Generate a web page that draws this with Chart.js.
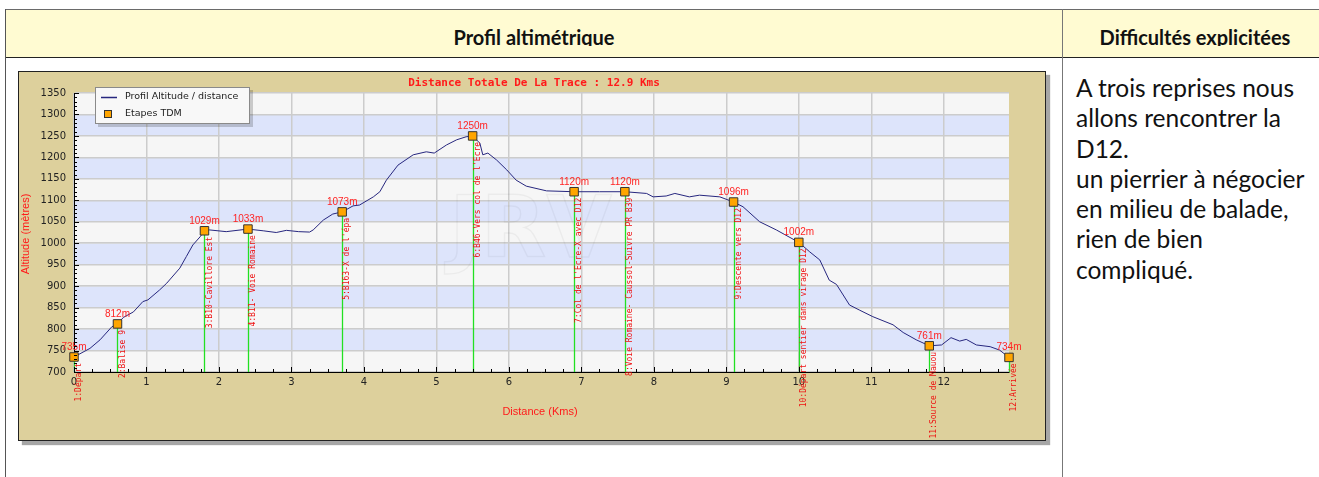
<!DOCTYPE html>
<html><head><meta charset="utf-8">
<script src="https://cdn.jsdelivr.net/npm/chart.js@4.4.0/dist/chart.umd.min.js"></script>
<style>
html,body{margin:0;padding:0;background:#fff;width:1319px;height:477px;overflow:hidden;font-family:Lato,"Noto Sans",sans-serif;}
.abs{position:absolute;}
#hdr{left:5px;top:9px;width:1320px;height:47px;background:#fffbd2;border-top:1px solid #6a6a6a;border-bottom:1px solid #222;}
#vl1{left:5px;top:9px;width:1px;height:470px;background:#555;}
#vl2{left:1062px;top:9px;width:1px;height:470px;background:#777;}
.ht{top:25px;height:21px;overflow:hidden;line-height:24px;font-size:20px;font-weight:bold;color:#111;text-align:center;white-space:nowrap;}
#h1{left:6px;width:1056px;}
#h2{left:1063px;width:264px;}
#frame{left:18px;top:71px;width:1026px;height:368px;border:1px solid #222;background:#ddd09c;box-shadow:4px 4px 1px rgba(0,0,0,0.35);}
#c{display:block;}
#txt{left:1076px;top:73px;font-size:24.5px;line-height:30.3px;color:#111;white-space:nowrap;}
</style></head>
<body>
<div id="hdr" class="abs"></div>
<div id="vl1" class="abs"></div>
<div id="vl2" class="abs"></div>
<div id="h1" class="abs ht">Profil altimétrique</div>
<div id="h2" class="abs ht">Difficultés explicitées</div>
<div id="frame" class="abs"><canvas id="c" width="1026" height="368"></canvas></div>
<div id="txt" class="abs">A trois reprises nous<br>allons rencontrer la<br>D12.<br>un pierrier à négocier<br>en milieu de balade,<br>rien de bien<br>compliqué.</div>
<script>
// ---- data ----
const distances = [0,0.22,0.36,0.52,0.60,0.68,0.82,0.95,1.02,1.18,1.28,1.46,1.55,1.64,1.74,1.80,1.87,2.10,2.40,2.61,2.79,2.93,3.10,3.25,3.30,3.44,3.57,3.70,3.85,3.94,4.13,4.22,4.31,4.47,4.68,4.86,4.97,5.14,5.28,5.41,5.50,5.60,5.64,5.71,5.83,5.97,6.10,6.24,6.52,6.90,7.25,7.60,7.90,7.99,8.17,8.29,8.49,8.63,8.91,9.10,9.23,9.46,9.69,10.00,10.15,10.29,10.42,10.52,10.70,10.84,11.02,11.30,11.44,11.62,11.80,11.97,12.10,12.22,12.31,12.45,12.64,12.77,12.90];
const altitudes = [735,755,775,805,812,827,840,864,868,891,907,942,969,996,1015,1029,1031,1027,1033,1029,1025,1030,1027,1026,1031,1054,1068,1073,1087,1089,1108,1120,1147,1182,1206,1213,1210,1229,1241,1248,1250,1233,1206,1210,1194,1171,1147,1133,1122,1120,1120,1120,1116,1108,1110,1116,1108,1112,1108,1096,1085,1050,1031,1002,980,961,914,904,856,844,829,810,792,775,761,763,780,772,776,763,759,751,734];
const stageKm = [0,0.6,1.8,2.4,3.7,5.5,6.9,7.6,9.1,10.0,11.8,12.9];
const stageAlt = [735,812,1029,1033,1073,1250,1120,1120,1096,1002,761,734];
const stageNames = ["1:Départ","2:Balise 9","3:B10-Cavillore Est","4:B11- Voie Romaine","5:B163-X de l'épa","6:B46-Vers col de l'Ecre","7:Col de l'Ecre-X avec D12","8:Voie Romaine- Caussol-Suivre PR B39","9:Descente vers D12","10:Départ sentier dans virage D12","11:Source de Mauou","12:Arrivée"];
const xTickValues = [0,1,2,3,4,5,6,7,8,9,10,11,12];
const yTickValues = [700,750,800,850,900,950,1000,1050,1100,1150,1200,1250,1300,1350];
const xMax = 12.9;
const chartTitle = "Distance Totale De La Trace : 12.9 Kms";
const xTitle = "Distance (Kms)";
const yTitle = "Altitude (mètres)";
const seriesLabels = ["Profil Altitude / distance","Etapes TDM"];

const bands = {id:'bands', beforeDraw(chart){
  const {ctx, chartArea:a, scales:{y}} = chart;
  ctx.save();
  for (let i=0;i<yTickValues.length-1;i++){
    const top=y.getPixelForValue(yTickValues[i+1]), bot=y.getPixelForValue(yTickValues[i]);
    ctx.fillStyle = (i%2===1)?'#dde4fb':'#f6f6f6';
    ctx.fillRect(a.left, top, a.right-a.left, bot-top);
  }
  ctx.restore();
}};

const stations = {id:'stations',
  beforeDatasetsDraw(chart){
    const {ctx, chartArea:a, scales:{x,y}} = chart;
    ctx.save();
    // watermark
    ctx.font='bold 85px "DejaVu Sans"'; ctx.textAlign='center'; ctx.textBaseline='middle';
    ctx.strokeStyle='rgba(0,0,0,0.045)'; ctx.lineWidth=1.5;
    ctx.strokeText('JRV', x.getPixelForValue(6.3), y.getPixelForValue(1020));
    ctx.strokeStyle='#22e022'; ctx.lineWidth=1.3;
    stageKm.forEach((k,i)=>{
      const px=Math.round(x.getPixelForValue(k))+0.5, py=y.getPixelForValue(stageAlt[i]);
      ctx.beginPath(); ctx.moveTo(px,py); ctx.lineTo(px,a.bottom); ctx.stroke();
    });
    ctx.restore();
  },
  afterDatasetsDraw(chart){
    const {ctx, chartArea:a, scales:{x,y}} = chart;
    ctx.save();
    stageKm.forEach((k,i)=>{
      const px=x.getPixelForValue(k), py=y.getPixelForValue(stageAlt[i]);
      ctx.fillStyle='#ff2424'; ctx.font='10px "Liberation Sans"'; ctx.textAlign='center'; ctx.textBaseline='alphabetic';
      ctx.fillText(stageAlt[i]+'m', px, py-7);
      ctx.save();
      ctx.translate(px+5, py+6); ctx.rotate(-Math.PI/2);
      ctx.font='8px "DejaVu Sans Mono"'; ctx.textAlign='right'; ctx.textBaseline='middle'; ctx.fillStyle='#ee1111';
      ctx.fillText(stageNames[i],0,0);
      ctx.restore();
    });
    ctx.restore();
  },
  afterDraw(chart){
    const {ctx, chartArea:a, scales:{x,y}} = chart;
    ctx.save();
    // minor ticks
    ctx.strokeStyle='#000'; ctx.lineWidth=1;
    for (let v=yTickValues[0]; v<=yTickValues[yTickValues.length-1]; v+=10){
      const py=Math.round(y.getPixelForValue(v))+0.5, len=(v%50===0)?5:3;
      ctx.beginPath(); ctx.moveTo(a.left,py); ctx.lineTo(a.left+len,py); ctx.stroke();
    }
    for (let q=0; q*0.25<=xMax; q++){
      const px=Math.round(x.getPixelForValue(q*0.25))+0.5, len=(q%4===0)?5:3;
      ctx.beginPath(); ctx.moveTo(px,a.bottom); ctx.lineTo(px,a.bottom-len); ctx.stroke();
    }
    // titles
    ctx.fillStyle='#ff1a1a';
    ctx.font='bold 11px "DejaVu Sans Mono"'; ctx.textAlign='center'; ctx.textBaseline='middle';
    ctx.fillText(chartTitle, 515, 11);
    ctx.font='11px "Liberation Sans"';
    ctx.fillText(xTitle, 521, 340);
    ctx.save(); ctx.translate(7,162); ctx.rotate(-Math.PI/2); ctx.fillText(yTitle,0,0); ctx.restore();
    // legend
    const lx=76, ly=15, lw=155, lh=37;
    ctx.fillStyle='rgba(0,0,0,0.18)'; ctx.fillRect(lx+3,ly+3,lw,lh);
    ctx.fillStyle='#f8f8f8'; ctx.fillRect(lx,ly,lw,lh);
    ctx.strokeStyle='#8a8a8a'; ctx.lineWidth=1; ctx.strokeRect(lx+0.5,ly+0.5,lw-1,lh-1);
    ctx.strokeStyle='#27277f'; ctx.lineWidth=1.5;
    ctx.beginPath(); ctx.moveTo(lx+6,ly+10.5); ctx.lineTo(lx+22,ly+10.5); ctx.stroke();
    ctx.fillStyle='#ffa500'; ctx.fillRect(lx+9,ly+23,8,8);
    ctx.strokeStyle='#333'; ctx.lineWidth=1; ctx.strokeRect(lx+9.5,ly+23.5,7,7);
    ctx.fillStyle='#222'; ctx.font='9.5px "DejaVu Sans"'; ctx.textAlign='left'; ctx.textBaseline='middle';
    ctx.fillText(seriesLabels[0], lx+30, ly+10);
    ctx.fillText(seriesLabels[1], lx+30, ly+27);
    ctx.restore();
  }
};

new Chart(document.getElementById('c'), {
  type:'scatter',
  data:{datasets:[
    {label:seriesLabels[0], data:distances.map((d,i)=>({x:d,y:altitudes[i]})), showLine:true, borderColor:'#27277f', borderWidth:1, pointRadius:0, tension:0, clip:false, order:2},
    {label:seriesLabels[1], data:stageKm.map((d,i)=>({x:d,y:stageAlt[i]})), showLine:false, pointStyle:'rect', pointRadius:6, backgroundColor:'#ffa500', borderColor:'#333', borderWidth:1, clip:false, order:1}
  ]},
  options:{
    responsive:false, animation:false, devicePixelRatio:1,
    layout:{padding:{left:0,top:21,right:36,bottom:0}},
    plugins:{legend:{display:false}, title:{display:false}, tooltip:{enabled:false}},
    scales:{
      x:{type:'linear', min:0, max:xMax,
        afterFit(s){s.height=68;},
        afterBuildTicks(s){s.ticks=xTickValues.map(v=>({value:v}));},
        grid:{color:'#cccccc', lineWidth:1.5, drawTicks:false},
        border:{display:true,color:'#000',width:1},
        ticks:{padding:4,color:'#222',font:{family:'DejaVu Sans',size:10},autoSkip:false,maxRotation:0,callback:v=>String(v)}},
      y:{type:'linear', min:700, max:1350,
        afterFit(s){s.width=55;},
        afterBuildTicks(s){s.ticks=yTickValues.map(v=>({value:v}));},
        grid:{color:'#cccccc', lineWidth:1.5, drawTicks:false},
        border:{display:true,color:'#000',width:1},
        ticks:{padding:8,color:'#222',font:{family:'DejaVu Sans',size:10},autoSkip:false,callback:v=>String(v)}}
    }
  },
  plugins:[bands, stations]
});
</script>
</body></html>
